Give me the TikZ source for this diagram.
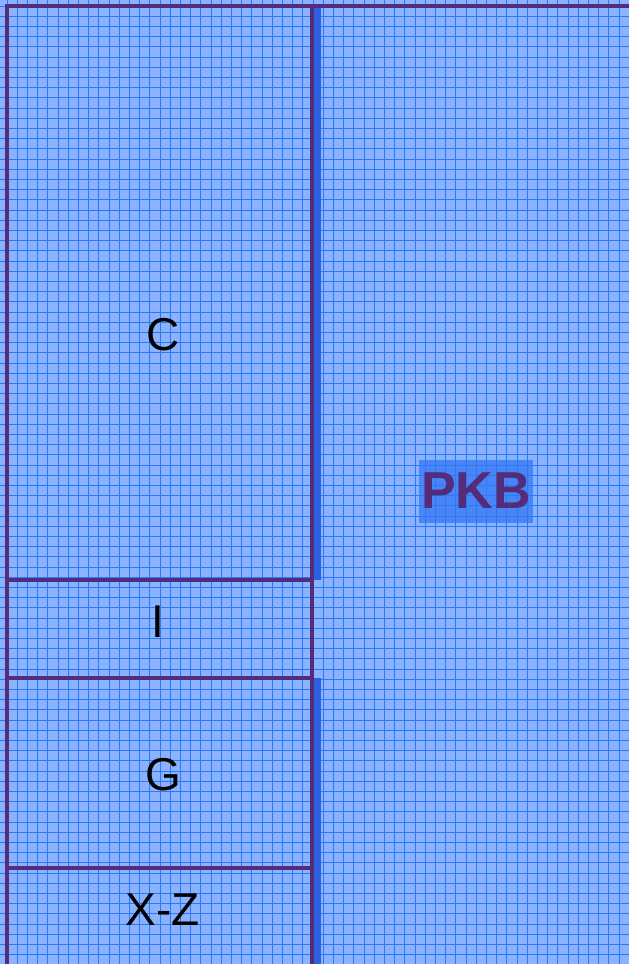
\documentclass[tikz,border=0pt]{standalone}
\usepackage{fontspec}
\setmainfont{Liberation Sans}
\usetikzlibrary{positioning}
\definecolor{PanelBlue}{RGB}{138,178,255}
\definecolor{GridBlue}{RGB}{40,120,250}
\definecolor{FramePurple}{RGB}{84,44,122}
\definecolor{StripBlue}{RGB}{45,95,225}
\definecolor{LabelBlue}{RGB}{50,120,245}

\begin{document}
\begin{tikzpicture}[
    x=1pt,
    y=-1pt,
    font=\fontsize{46}{50}\selectfont,
    part/.style={
        draw=FramePurple,
        line width=3.5pt,
        anchor=north west,
        inner sep=0pt,
        outer sep=0pt,
        minimum width=305pt
    },
    partlabel/.style={
        inner sep=0pt,
        text=black
    },
    kblabel/.style={
        fill=LabelBlue,
        fill opacity=0.75,
        text opacity=1,
        inner sep=0pt,
        minimum width=114pt,
        minimum height=63pt,
        text=FramePurple,
        font=\fontsize{52}{56}\selectfont\bfseries
    }
]

% canvas and grid
\fill[PanelBlue] (0,0) rectangle (629,964);
\useasboundingbox (0,0) rectangle (629,964);
\foreach \gx in {0,...,61}
    \draw[GridBlue, line width=0.8pt] (7+\gx*10.2,0) -- (7+\gx*10.2,964);
\foreach \gy in {0,...,94}
    \draw[GridBlue, line width=0.8pt] (0,6+\gy*10.2) -- (629,6+\gy*10.2);

% knowledge base panel edge
\fill[StripBlue] (313,6) rectangle (321,580);
\fill[StripBlue] (313,678) rectangle (321,964);

% outer frame
\draw[FramePurple, line width=3.5pt] (7,966) -- (7,6) -- (631,6);

% left column
\node[part, minimum height=574pt] (c) at (7,6) {};
\node[part, minimum height=98pt] (i) at (7,580) {};
\node[part, minimum height=190pt] (g) at (7,678) {};
\node[part, minimum height=100pt] (xz) at (7,868) {};

\node[partlabel] (clab) at (163,335) {C};
\node[partlabel] (ilab) at (158,622) {I};
\node[partlabel] (glab) at (163,775) {G};
\node[partlabel] (xzlab) at (163,910) {X-Z};

% knowledge base
\node[kblabel] (pkb) at (476,491) {PKB};

\end{tikzpicture}
\end{document}
